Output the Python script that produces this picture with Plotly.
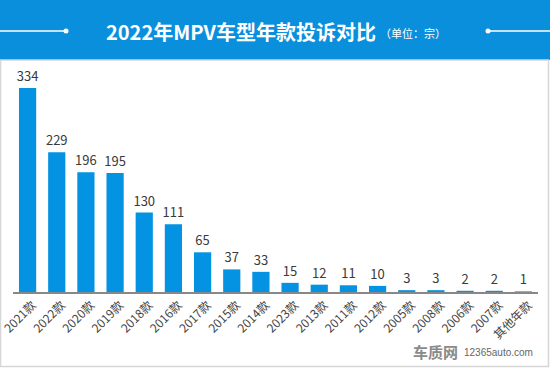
import plotly.graph_objects as go

categories = ["2021款", "2022款", "2020款", "2019款", "2018款", "2016款", "2017款", "2015款", "2014款",
              "2023款", "2013款", "2011款", "2012款", "2005款", "2008款", "2006款", "2007款", "其他年款"]
values = [334, 229, 196, 195, 130, 111, 65, 37, 33, 15, 12, 11, 10, 3, 3, 2, 2, 1]

W, H = 550, 368
L, R, T, B = 13, 12, 88, 76
PW, PH = W - L - R, H - T - B

def px(xp):
    return (xp - L) / PW

def py(yp):
    return (H - B - yp) / PH

FONT = "Noto Sans CJK SC"

fig = go.Figure(go.Bar(
    x=categories, y=values,
    marker=dict(color="#0492E2", line=dict(width=0)),
    text=[str(v) for v in values],
    textposition="outside",
    constraintext="none",
    textfont=dict(size=13, color="#3a3a3a", family=FONT),
    cliponaxis=False,
    hoverinfo="skip",
))

shapes = [
    # header band
    dict(type="rect", xref="paper", yref="paper", x0=px(0), x1=px(W), y0=py(60), y1=py(0),
         fillcolor="#0A8FDD", line=dict(width=0), layer="below"),
    # border
    dict(type="rect", xref="paper", yref="paper", x0=px(0.5), x1=px(548.5), y0=py(366.5), y1=py(60),
         fillcolor="rgba(0,0,0,0)", line=dict(color="#d6d6d6", width=1.5), layer="below"),
    # header decoration lines
    dict(type="line", xref="paper", yref="paper", x0=px(0), x1=px(66), y0=py(31), y1=py(31),
         line=dict(color="white", width=1.5)),
    dict(type="line", xref="paper", yref="paper", x0=px(488), x1=px(W), y0=py(31), y1=py(31),
         line=dict(color="white", width=1.5)),
    dict(type="circle", xref="paper", yref="paper", x0=px(63.5), x1=px(68.5), y0=py(33.5), y1=py(28.5),
         fillcolor="white", line=dict(width=0)),
    dict(type="circle", xref="paper", yref="paper", x0=px(485.5), x1=px(490.5), y0=py(33.5), y1=py(28.5),
         fillcolor="white", line=dict(width=0)),
]

annotations = [
    dict(text="<b>2022年MPV车型年款投诉对比</b>", xref="paper", yref="paper", x=px(378), y=py(31),
         xanchor="right", yanchor="middle", showarrow=False,
         font=dict(size=20, color="white", family=FONT)),
    dict(text="（单位：宗）", xref="paper", yref="paper", x=px(378), y=py(33),
         xanchor="left", yanchor="middle", showarrow=False,
         font=dict(size=11, color="white", family=FONT)),
    dict(text="<b>车质网</b>", xref="paper", yref="paper", x=px(435), y=py(351),
         xanchor="center", yanchor="middle", showarrow=False,
         font=dict(size=15, color="#8a8a8a", family=FONT)),
    dict(text="12365auto.com", xref="paper", yref="paper", x=px(462), y=py(352),
         xanchor="left", yanchor="middle", showarrow=False,
         font=dict(size=10, color="#666666", family="Liberation Sans")),
]

fig.update_layout(
    width=W, height=H,
    margin=dict(l=L, r=R, t=T, b=B, pad=0, autoexpand=False),
    paper_bgcolor="white", plot_bgcolor="white",
    bargap=0.41,
    showlegend=False,
    hovermode=False,
    shapes=shapes,
    annotations=annotations,
    xaxis=dict(
        tickangle=-45,
        automargin=False,
        ticklabelshift=5,
        tickfont=dict(size=12, color="#444444", family=FONT),
        showline=True, linecolor="#888888", linewidth=1.5,
        ticks="", showgrid=False, zeroline=False,
        fixedrange=True,
    ),
    yaxis=dict(
        range=[0, 334], visible=False, showgrid=False, zeroline=False, automargin=False,
        fixedrange=True,
    ),
)

fig.write_html("out.html", config={"displayModeBar": False, "staticPlot": True},
               post_script="document.body.style.margin='0';document.body.style.overflow='hidden';")
